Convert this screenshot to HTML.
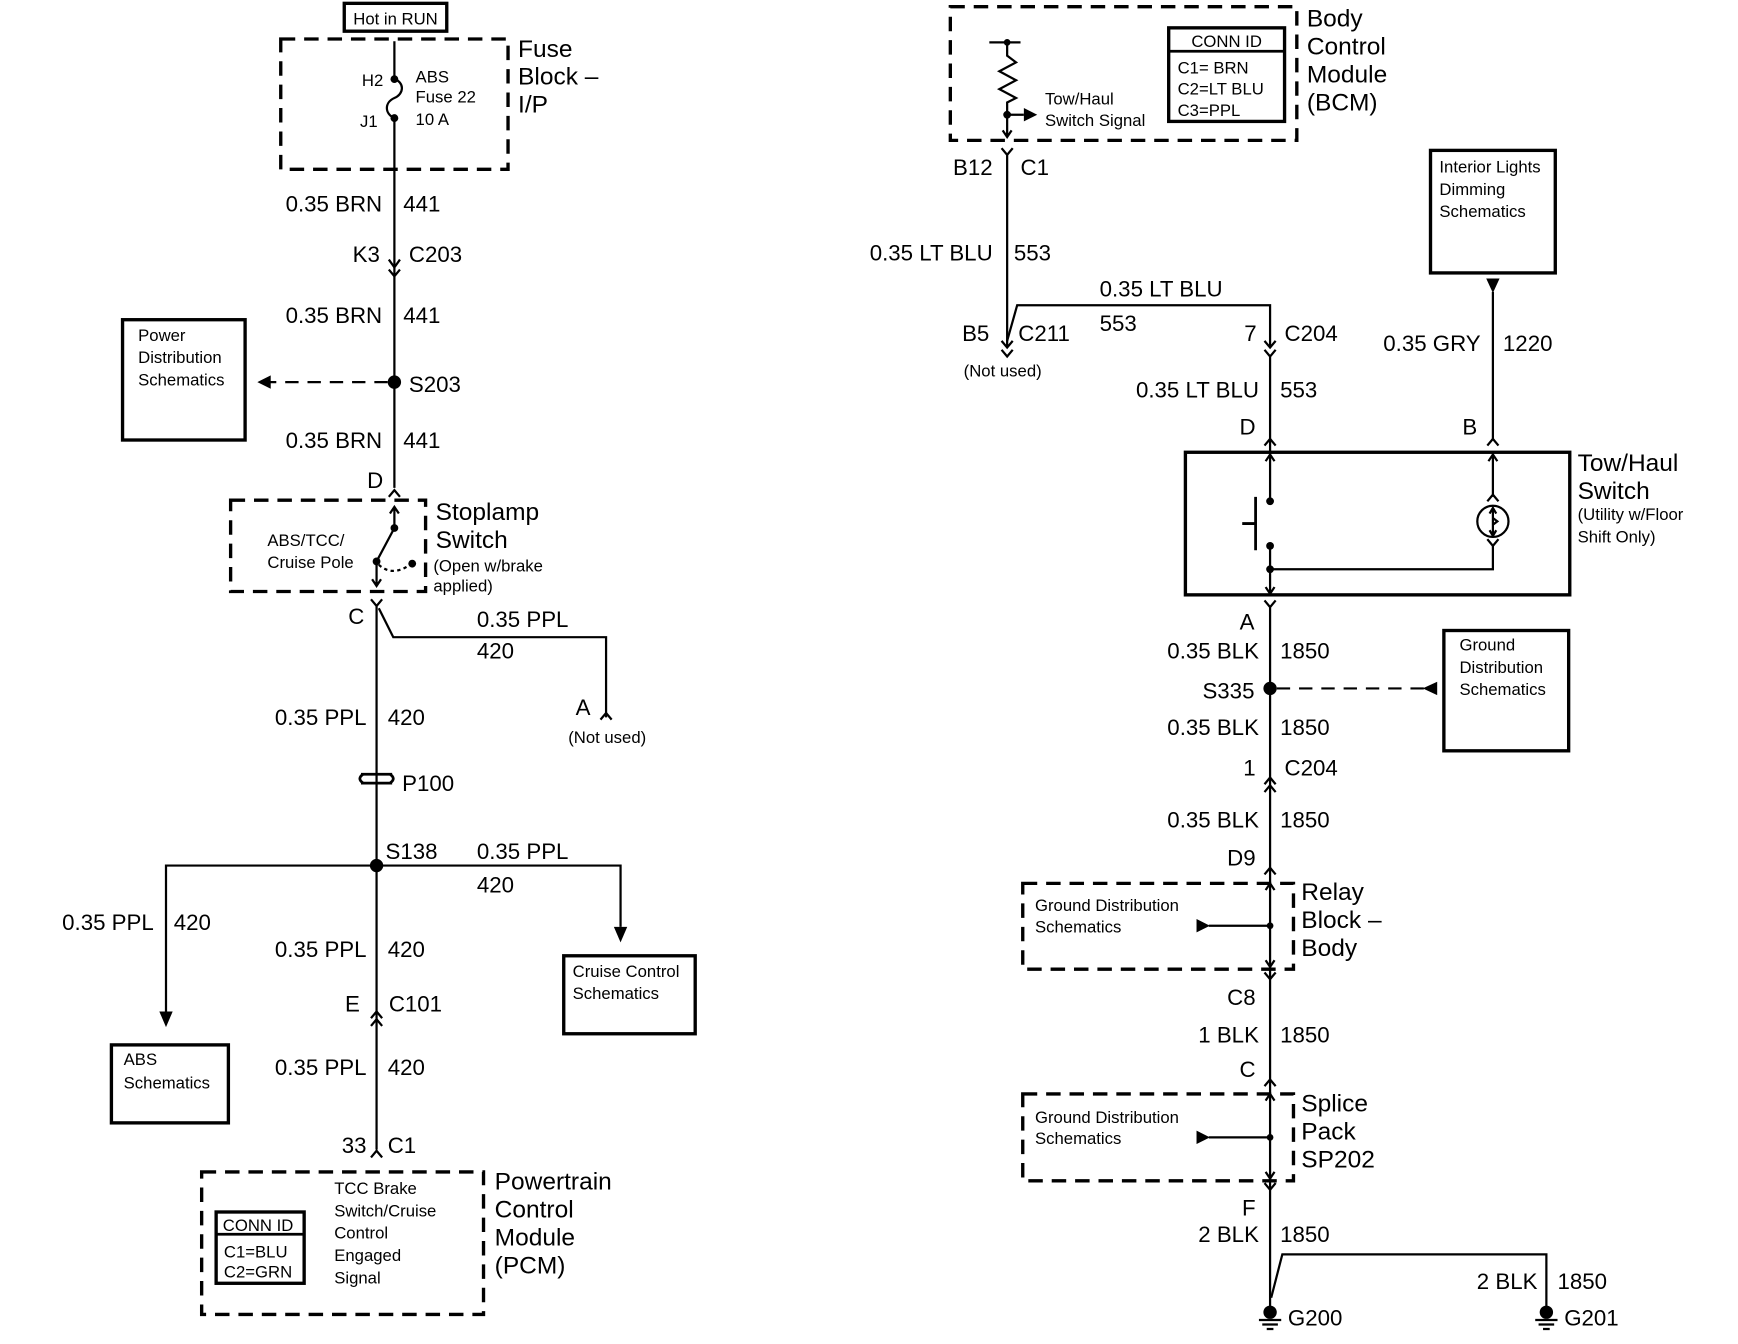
<!DOCTYPE html>
<html><head><meta charset="utf-8"><style>
html,body{margin:0;padding:0;background:#fff;}
svg{display:block;}
text{font-family:"Liberation Sans",Arial,sans-serif;fill:#000;}
.b{font-size:20px;}
.s{font-size:15px;}
.m{font-size:22px;}
.w{stroke:#000;stroke-width:2;fill:none;}
.d{stroke:#000;stroke-width:3;fill:none;stroke-dasharray:13 8;}
.bx{stroke:#000;stroke-width:3;fill:none;}
</style></head><body>
<svg width="1738" height="1344" viewBox="0 0 1560 1206.5" preserveAspectRatio="none" xmlns="http://www.w3.org/2000/svg">
<rect x="0" y="0" width="1560" height="1207" fill="#fff"/>
<!-- ============ LEFT ============ -->
<rect x="309" y="3" width="92" height="25" class="bx"/>
<text x="355" y="22" class="s" text-anchor="middle">Hot in RUN</text>
<rect x="252" y="35" width="204" height="117" class="d"/>
<text x="465" y="51" class="m">Fuse</text>
<text x="465" y="76" class="m">Block –</text>
<text x="465" y="101" class="m">I/P</text>
<path class="w" d="M354 37 V71 C363 74 363 84 354 88 C345 92 345 102 354 106 V438"/>
<circle cx="354" cy="71" r="3.5"/><circle cx="354" cy="106" r="3.5"/>
<text x="344" y="77" class="s" text-anchor="end">H2</text>
<text x="339" y="114" class="s" text-anchor="end">J1</text>
<text x="373" y="74" class="s">ABS</text>
<text x="373" y="92" class="s">Fuse 22</text>
<text x="373" y="112" class="s">10 A</text>
<text x="343" y="190" class="b" text-anchor="end">0.35 BRN</text>
<text x="362" y="190" class="b">441</text>
<text x="341" y="235" class="b" text-anchor="end">K3</text>
<text x="367" y="235" class="b">C203</text>
<path class="w" d="M349 233 L354 240 L359 233 M349 242 L354 248 L359 242"/>
<text x="343" y="290" class="b" text-anchor="end">0.35 BRN</text>
<text x="362" y="290" class="b">441</text>
<rect x="110" y="287" width="110" height="108" class="bx"/>
<text x="124" y="306" class="s">Power</text>
<text x="124" y="326" class="s">Distribution</text>
<text x="124" y="346" class="s">Schematics</text>
<circle cx="354" cy="343" r="6"/>
<path d="M348 343 H242" stroke="#000" stroke-width="2" stroke-dasharray="12 8"/>
<path d="M231 343 L243 337 L243 349 Z"/>
<text x="367" y="352" class="b">S203</text>
<text x="343" y="402" class="b" text-anchor="end">0.35 BRN</text>
<text x="362" y="402" class="b">441</text>
<text x="344" y="438" class="b" text-anchor="end">D</text>
<path class="w" d="M349 446 L354 440 L359 446"/>
<rect x="207" y="449" width="175" height="82" class="d"/>
<text x="391" y="467" class="m">Stoplamp</text>
<text x="391" y="492" class="m">Switch</text>
<text x="389" y="513" class="s">(Open w/brake</text>
<text x="389" y="531" class="s">applied)</text>
<text x="240" y="490" class="s">ABS/TCC/</text>
<text x="240" y="510" class="s">Cruise Pole</text>
<path class="w" d="M354 474 V455 M350 461 L354 455 L358 461"/>
<circle cx="354" cy="474" r="3.5"/>
<path class="w" d="M354 474 L338 504 V526 M334 520 L338 526 L342 520"/>
<circle cx="338" cy="504" r="3.5"/><circle cx="370" cy="506" r="3.5"/>
<path d="M340 507 Q352 518 368 507" stroke="#000" stroke-width="2" fill="none" stroke-dasharray="3 3"/>
<text x="327" y="560" class="b" text-anchor="end">C</text>
<path class="w" d="M333 538 L338 544 L343 538 M338 544 V1032 M340 546 L353 572 H544 V644"/>
<text x="428" y="563" class="b">0.35 PPL</text>
<text x="428" y="591" class="b">420</text>
<text x="530" y="642" class="b" text-anchor="end">A</text>
<path class="w" d="M539 646 L544 640 L549 646"/>
<text x="510" y="667" class="s">(Not used)</text>
<text x="329" y="651" class="b" text-anchor="end">0.35 PPL</text>
<text x="348" y="651" class="b">420</text>
<path d="M324 695 H352 M324 703 H352 M326 695 Q320 699 326 703 M350 695 Q356 699 350 703" stroke="#000" stroke-width="2.5" fill="none"/>
<text x="361" y="710" class="b">P100</text>
<circle cx="338" cy="777" r="6"/>
<path class="w" d="M149 908 V777 H557 V832"/>
<path d="M143 908 L155 908 L149 922 Z"/><path d="M551 832 L563 832 L557 846 Z"/>
<text x="346" y="771" class="b">S138</text>
<text x="428" y="771" class="b">0.35 PPL</text>
<text x="428" y="801" class="b">420</text>
<text x="138" y="835" class="b" text-anchor="end">0.35 PPL</text>
<text x="156" y="835" class="b">420</text>
<rect x="100" y="938" width="105" height="70" class="bx"/>
<text x="111" y="956" class="s">ABS</text>
<text x="111" y="977" class="s">Schematics</text>
<rect x="506" y="858" width="118" height="70" class="bx"/>
<text x="514" y="877" class="s">Cruise Control</text>
<text x="514" y="897" class="s">Schematics</text>
<text x="329" y="859" class="b" text-anchor="end">0.35 PPL</text>
<text x="348" y="859" class="b">420</text>
<text x="323" y="908" class="b" text-anchor="end">E</text>
<text x="349" y="908" class="b">C101</text>
<path class="w" d="M333 914 L338 908 L343 914 M333 921 L338 915 L343 921"/>
<text x="329" y="965" class="b" text-anchor="end">0.35 PPL</text>
<text x="348" y="965" class="b">420</text>
<text x="329" y="1035" class="b" text-anchor="end">33</text>
<text x="348" y="1035" class="b">C1</text>
<path class="w" d="M333 1039 L338 1033 L343 1039"/>
<rect x="181" y="1052" width="253" height="128" class="d"/>
<text x="444" y="1068" class="m">Powertrain</text>
<text x="444" y="1093" class="m">Control</text>
<text x="444" y="1118" class="m">Module</text>
<text x="444" y="1143" class="m">(PCM)</text>
<rect x="194" y="1088" width="79" height="64" class="bx"/>
<path d="M194 1108 H273" stroke="#000" stroke-width="2.5"/>
<text x="200" y="1105" class="s">CONN ID</text>
<text x="201" y="1129" class="s">C1=BLU</text>
<text x="201" y="1147" class="s">C2=GRN</text>
<text x="300" y="1072" class="s">TCC Brake</text>
<text x="300" y="1092" class="s">Switch/Cruise</text>
<text x="300" y="1112" class="s">Control</text>
<text x="300" y="1132" class="s">Engaged</text>
<text x="300" y="1152" class="s">Signal</text>
<!-- ============ RIGHT ============ -->
<rect x="853" y="6" width="311" height="120" class="d"/>
<text x="1173" y="24" class="m">Body</text>
<text x="1173" y="49" class="m">Control</text>
<text x="1173" y="74" class="m">Module</text>
<text x="1173" y="99" class="m">(BCM)</text>
<rect x="1049" y="25" width="104" height="84" class="bx"/>
<path d="M1049 46 H1153" stroke="#000" stroke-width="2.5"/>
<text x="1101" y="42" class="s" text-anchor="middle">CONN ID</text>
<text x="1057" y="66" class="s">C1= BRN</text>
<text x="1057" y="85" class="s">C2=LT BLU</text>
<text x="1057" y="104" class="s">C3=PPL</text>
<path class="w" d="M888 38 H916 M904 38 V50 L912 56 L897 64 L912 72 L897 80 L912 88 L904 92 V123 M900 117 L904 123 L908 117 M904 103 H919"/>
<circle cx="904" cy="38" r="3"/><circle cx="904" cy="103" r="3.5"/>
<path d="M919 97 L931 103 L919 109 Z"/>
<text x="938" y="94" class="s">Tow/Haul</text>
<text x="938" y="113" class="s">Switch Signal</text>
<text x="891" y="157" class="b" text-anchor="end">B12</text>
<text x="916" y="157" class="b">C1</text>
<path class="w" d="M899 133 L904 139 L909 133 M904 139 V312 M899 306 L904 312 L909 306 M899 314 L904 320 L909 314"/>
<text x="891" y="234" class="b" text-anchor="end">0.35 LT BLU</text>
<text x="910" y="234" class="b">553</text>
<path class="w" d="M904 306 L913 274 H1140 V312 M1135 306 L1140 312 L1145 306 M1135 314 L1140 320 L1145 314 M1140 320 V405"/>
<text x="987" y="266" class="b">0.35 LT BLU</text>
<text x="987" y="297" class="b">553</text>
<text x="888" y="306" class="b" text-anchor="end">B5</text>
<text x="914" y="306" class="b">C211</text>
<text x="865" y="338" class="s">(Not used)</text>
<text x="1128" y="306" class="b" text-anchor="end">7</text>
<text x="1153" y="306" class="b">C204</text>
<text x="1130" y="357" class="b" text-anchor="end">0.35 LT BLU</text>
<text x="1149" y="357" class="b">553</text>
<text x="1127" y="390" class="b" text-anchor="end">D</text>
<text x="1326" y="390" class="b" text-anchor="end">B</text>
<path class="w" d="M1135 400 L1140 394 L1145 400 M1335 400 L1340 394 L1345 400"/>
<rect x="1064" y="406" width="345" height="128" class="bx"/>
<path class="w" d="M1140 406 V450 M1136 414 L1140 408 L1144 414"/>
<circle cx="1140" cy="450" r="3.5"/>
<path d="M1127 446 V494 M1115 470 H1127" stroke="#000" stroke-width="2.5"/>
<circle cx="1140" cy="490" r="3.5"/><circle cx="1140" cy="511" r="3.5"/>
<path class="w" d="M1140 490 V534 M1136 527 L1140 533 L1144 527 M1140 511 H1340 V490 M1335 484 L1340 490 L1345 484"/>
<circle cx="1340" cy="468" r="14" class="w"/>
<path class="w" d="M1340 456 V481 M1337 461 L1340 456 L1343 461 M1337 476 L1340 481 L1343 476 M1340 465 L1344 468 L1340 471"/>
<path class="w" d="M1340 406 V446 M1336 414 L1340 408 L1344 414 M1335 450 L1340 444 L1345 450"/>
<path class="w" d="M1340 394 V262"/>
<path d="M1334 250 L1346 250 L1340 263 Z"/>
<rect x="1284" y="135" width="112" height="110" class="bx"/>
<text x="1292" y="155" class="s">Interior Lights</text>
<text x="1292" y="175" class="s">Dimming</text>
<text x="1292" y="195" class="s">Schematics</text>
<text x="1329" y="315" class="b" text-anchor="end">0.35 GRY</text>
<text x="1349" y="315" class="b">1220</text>
<text x="1416" y="423" class="m">Tow/Haul</text>
<text x="1416" y="448" class="m">Switch</text>
<text x="1416" y="467" class="s">(Utility w/Floor</text>
<text x="1416" y="487" class="s">Shift Only)</text>
<text x="1126" y="565" class="b" text-anchor="end">A</text>
<path class="w" d="M1135 539 L1140 545 L1145 539 M1140 545 V1176"/>
<text x="1130" y="591" class="b" text-anchor="end">0.35 BLK</text>
<text x="1149" y="591" class="b">1850</text>
<circle cx="1140" cy="618" r="6"/>
<text x="1126" y="627" class="b" text-anchor="end">S335</text>
<path d="M1146 618 H1278" stroke="#000" stroke-width="2" stroke-dasharray="12 8"/>
<path d="M1277 618 L1290 612 L1290 624 Z"/>
<rect x="1296" y="566" width="112" height="108" class="bx"/>
<text x="1310" y="584" class="s">Ground</text>
<text x="1310" y="604" class="s">Distribution</text>
<text x="1310" y="624" class="s">Schematics</text>
<text x="1130" y="660" class="b" text-anchor="end">0.35 BLK</text>
<text x="1149" y="660" class="b">1850</text>
<text x="1127" y="696" class="b" text-anchor="end">1</text>
<text x="1153" y="696" class="b">C204</text>
<path class="w" d="M1135 704 L1140 698 L1145 704 M1135 711 L1140 705 L1145 711"/>
<text x="1130" y="743" class="b" text-anchor="end">0.35 BLK</text>
<text x="1149" y="743" class="b">1850</text>
<text x="1127" y="777" class="b" text-anchor="end">D9</text>
<path class="w" d="M1135 785 L1140 779 L1145 785"/>
<rect x="918" y="793" width="243" height="77" class="d"/>
<path class="w" d="M1136 799 L1140 793 L1144 799 M1136 862 L1140 868 L1144 862 M1085 831 H1140"/>
<path d="M1074 825 L1086 831 L1074 837 Z"/><circle cx="1140" cy="831" r="3"/>
<text x="929" y="818" class="s">Ground Distribution</text>
<text x="929" y="837" class="s">Schematics</text>
<text x="1168" y="808" class="m">Relay</text>
<text x="1168" y="833" class="m">Block –</text>
<text x="1168" y="858" class="m">Body</text>
<path class="w" d="M1135 873 L1140 879 L1145 873"/>
<text x="1127" y="902" class="b" text-anchor="end">C8</text>
<text x="1130" y="936" class="b" text-anchor="end">1 BLK</text>
<text x="1149" y="936" class="b">1850</text>
<text x="1127" y="967" class="b" text-anchor="end">C</text>
<path class="w" d="M1135 975 L1140 969 L1145 975"/>
<rect x="918" y="982" width="243" height="78" class="d"/>
<path class="w" d="M1136 988 L1140 982 L1144 988 M1136 1052 L1140 1058 L1144 1052 M1085 1021 H1140"/>
<path d="M1074 1015 L1086 1021 L1074 1027 Z"/><circle cx="1140" cy="1021" r="3"/>
<text x="929" y="1008" class="s">Ground Distribution</text>
<text x="929" y="1027" class="s">Schematics</text>
<text x="1168" y="998" class="m">Splice</text>
<text x="1168" y="1023" class="m">Pack</text>
<text x="1168" y="1048" class="m">SP202</text>
<path class="w" d="M1135 1062 L1140 1068 L1145 1062"/>
<text x="1127" y="1091" class="b" text-anchor="end">F</text>
<text x="1130" y="1115" class="b" text-anchor="end">2 BLK</text>
<text x="1149" y="1115" class="b">1850</text>
<path class="w" d="M1141 1165 L1151 1126 H1388 V1176"/>
<text x="1380" y="1157" class="b" text-anchor="end">2 BLK</text>
<text x="1398" y="1157" class="b">1850</text>
<circle cx="1140" cy="1178" r="6"/>
<path d="M1130 1185 H1150 M1133 1189 H1147 M1137 1193 H1143" stroke="#000" stroke-width="2"/>
<text x="1156" y="1190" class="b">G200</text>
<circle cx="1388" cy="1178" r="6"/>
<path d="M1378 1185 H1398 M1381 1189 H1395 M1385 1193 H1391" stroke="#000" stroke-width="2"/>
<text x="1404" y="1190" class="b">G201</text>
</svg>
</body></html>
